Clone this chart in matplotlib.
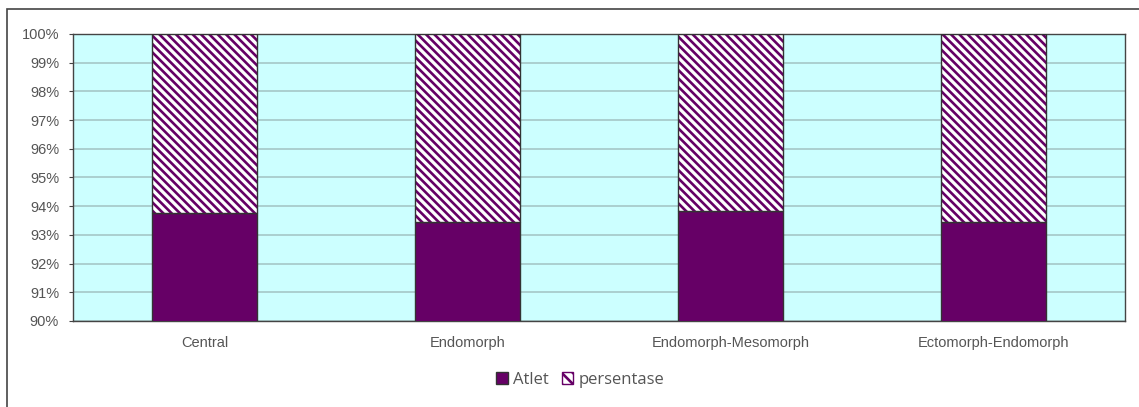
import numpy as np
import matplotlib
matplotlib.use('Agg')
from matplotlib import pyplot as plt
from matplotlib.patches import Rectangle, Patch
from matplotlib.ticker import FuncFormatter

# data (share of each bar, percent)
categories = ['Central', 'Endomorph', 'Endomorph-Mesomorph', 'Ectomorph-Endomorph']
atlet = [93.77, 93.46, 93.84, 93.46]
persentase = [100 - v for v in atlet]

purple = '#660066'
plt.rcParams['hatch.linewidth'] = 1.9

fig = plt.figure(figsize=(11.39, 4.07), dpi=100)
ax = fig.add_axes([73/1139, 1-321/407, (1125-73)/1139, (321-34)/407])

# outer frame of the chart object
fig.patches.append(Rectangle((7/1139, -0.1), 1.2, 1-9/407+0.1, transform=fig.transFigure,
                             fill=False, edgecolor='#444444', linewidth=1.2))

x = np.arange(len(categories))
w = 0.4
ax.bar(x, atlet, w, color=purple, edgecolor='#333333', linewidth=1, zorder=3)
ax.bar(x, persentase, w, bottom=atlet, color='white', edgecolor=purple,
       hatch='\\\\\\\\', linewidth=0, zorder=3)
ax.bar(x, persentase, w, bottom=atlet, color='none', edgecolor='#333333', linewidth=1, zorder=4)

ax.set_xlim(-0.5, len(categories) - 0.5)
ax.set_ylim(90, 100)
ax.set_yticks(np.arange(90, 101, 1))
ax.yaxis.set_major_formatter(FuncFormatter(lambda v, p: '%d%%' % v))
ax.set_xticks(x)
ax.set_xticklabels(categories)
ax.set_facecolor('#ccffff')
ax.grid(axis='y', color='#a8cccc', linewidth=1.3, zorder=1)
ax.set_axisbelow(True)
for s in ax.spines.values():
    s.set_color('#444444')
    s.set_linewidth(1)
ax.tick_params(axis='y', length=3, color='#444444', labelsize=10.5, labelcolor='#555555', pad=7)
ax.tick_params(axis='x', length=0, labelsize=10.5, labelcolor='#555555', pad=11)
for t in ax.get_xticklabels() + ax.get_yticklabels():
    t.set_family('Liberation Sans')

handles = [Patch(facecolor=purple, edgecolor='#333333', label='Atlet'),
           Patch(facecolor='white', edgecolor=purple, hatch='\\\\\\', label='persentase')]
fig.legend(handles=handles, loc='center', bbox_to_anchor=(580/1139, 1-380/407), ncol=2,
           frameon=False, prop={'family': 'Open Sans', 'size': 12}, handlelength=0.7,
           handleheight=0.7, handletextpad=0.3, columnspacing=0.8, labelcolor='#555555')

plt.savefig('out.png', dpi=100)
